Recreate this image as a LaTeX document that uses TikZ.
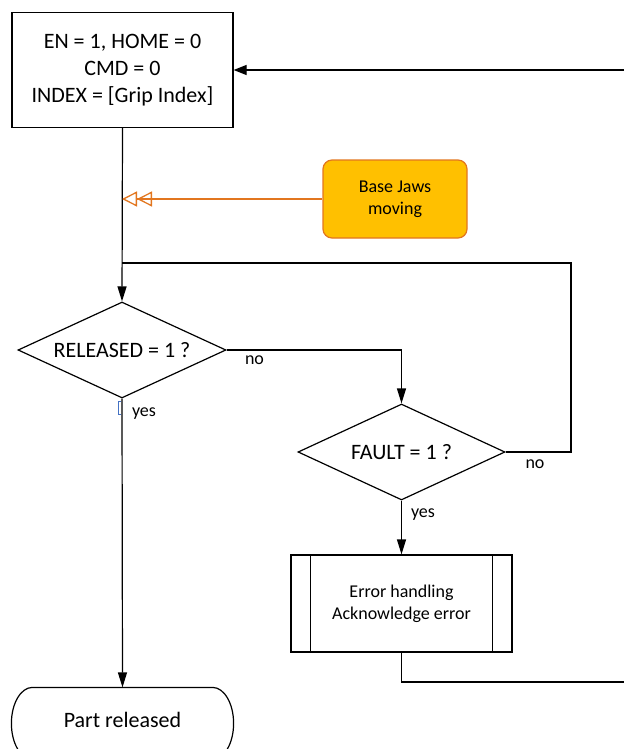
\documentclass[tikz,border=0pt]{standalone}
\usepackage{fontspec}
\setmainfont{Carlito}
\usetikzlibrary{shapes.geometric,arrows.meta,calc}
\definecolor{jawfill}{HTML}{FFC000}
\definecolor{jawline}{HTML}{E2761F}
\definecolor{brk}{HTML}{4472C4}
\begin{document}
\begin{tikzpicture}[x=1pt,y=-1pt,
  line width=1.2pt,
  big/.style={font=\fontsize{22}{27}\selectfont},
  small/.style={font=\fontsize{18}{22}\selectfont},
  box/.style={draw=black,rectangle,big,align=center,inner sep=0pt},
  dec/.style={draw=black,diamond,big,inner sep=0pt,aspect=2.17},
  arr/.style={-{Triangle[length=15pt,width=9pt]}},
  lbl/.style={small,inner sep=0pt}]
\useasboundingbox (0,0) rectangle (624,749);
% nodes
\node[box,minimum width=221pt,minimum height=115pt] (top) at (122.5,70)
  {EN = 1, HOME = 0\\CMD = 0\\INDEX = [Grip Index]};
\node[draw=jawline,fill=jawfill,rounded corners=9pt,small,align=center,
  minimum width=144pt,minimum height=78pt,inner sep=0pt] (jaws) at (395,199)
  {Base Jaws\\moving};
\node[dec,minimum width=208pt,minimum height=96pt] (rel) at (122,350) {RELEASED = 1 ?};
\node[dec,minimum width=207pt,minimum height=96pt] (fault) at (401.5,452) {FAULT = 1 ?};
\node[box,small,minimum width=221pt,minimum height=97pt] (proc) at (401.5,603.5)
  {Error handling\\Acknowledge error};
\draw ($(proc.north west)+(20,0)$) -- ($(proc.south west)+(20,0)$);
\draw ($(proc.north east)+(-20,0)$) -- ($(proc.south east)+(-20,0)$);
\node[rectangle,big,minimum width=221pt,minimum height=64pt,inner sep=0pt] (fin) at (122.5,720) {Part released};
\draw ($(fin.north west)+(21,0)$) -- ($(fin.north east)+(-21,0)$)
  arc[start angle=90,end angle=-90,x radius=21pt,y radius=36pt]
  -- ($(fin.north west)+(21,72)$)
  arc[start angle=270,end angle=90,x radius=21pt,y radius=36pt] -- cycle;
% coordinates
\coordinate (rin) at (624,70);
\coordinate (rout) at (624,682);
\coordinate (loopc) at (571,263);
\coordinate (join) at (122,263);
\coordinate (oj) at (122,199);
% connectors
\draw[-{Triangle[length=13pt,width=10pt]}] (rin) -- (top.east);
\draw[arr] (top.south) -- (rel.north);
\draw (fault.east) -| (loopc) -- (join);
\draw[jawline,line width=1.3pt,-{Triangle[open,length=15pt,width=15pt]Triangle[open,length=15pt,width=15pt]}] (jaws.west) -- (oj);
\draw[arr] (rel.east) -| (fault.north);
\draw[arr] (rel.south) -- (fin.north);
\draw[arr] (fault.south) -- (proc.north);
\draw (proc.south) |- (rout);
% bracket mark
\draw[brk,line width=0.8pt] (121,401) -- (118.5,401) -- (118.5,414) -- (121,414);
% labels
\node[lbl] (lno1) at (254.5,360) {no};
\node[lbl] (lno2) at (535,464) {no};
\node[lbl] (lyes1) at (144,414) {yes};
\node[lbl] (lyes2) at (423,515) {yes};
\end{tikzpicture}
\end{document}
